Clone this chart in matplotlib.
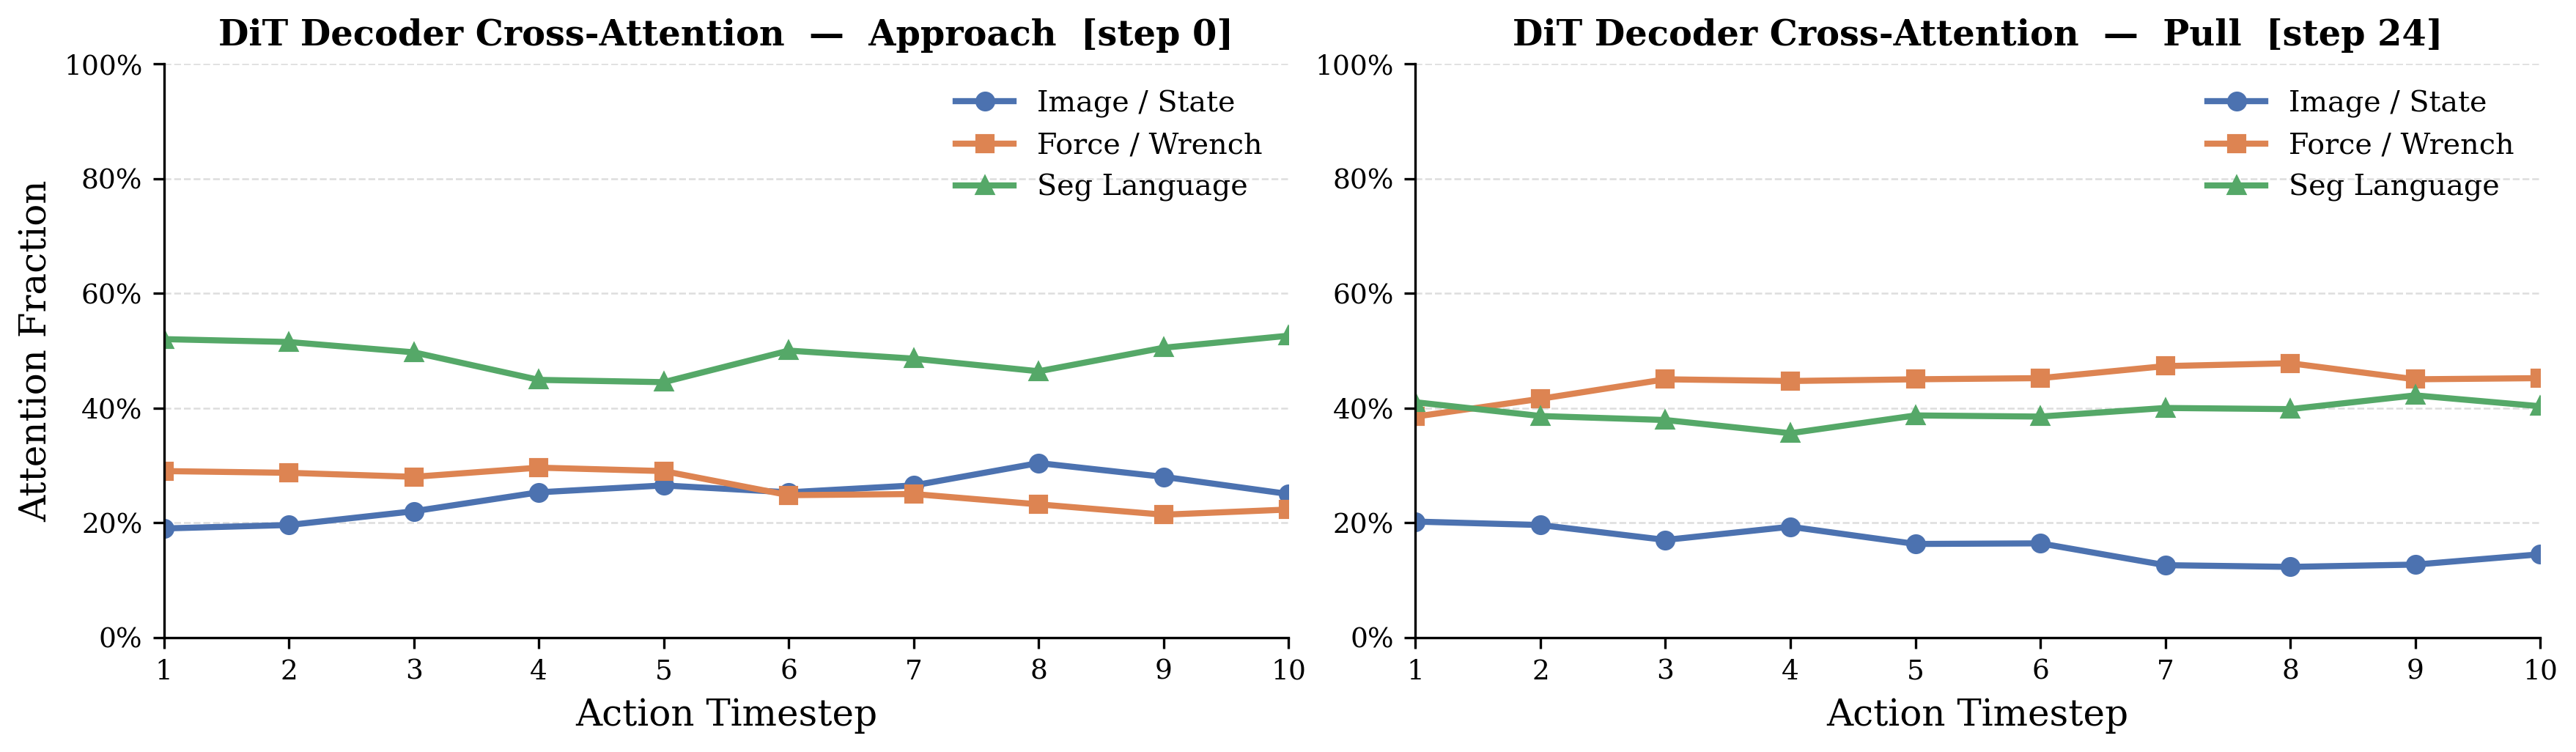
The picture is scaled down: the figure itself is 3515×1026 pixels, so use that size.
import matplotlib
matplotlib.use("Agg")
import matplotlib.pyplot as plt
from matplotlib.ticker import PercentFormatter

plt.rcParams['font.family'] = ['DejaVu Serif']

steps = list(range(1, 11))
titles = ["DiT Decoder Cross-Attention  —  Approach  [step 0]",
          "DiT Decoder Cross-Attention  —  Pull  [step 24]"]
series_names = ["Image / State", "Force / Wrench", "Seg Language"]
left_image = [19.0, 19.6, 22.0, 25.3, 26.5, 25.3, 26.5, 30.4, 28.0, 25.0]
left_force = [29.0, 28.7, 28.0, 29.6, 29.0, 24.8, 25.0, 23.2, 21.4, 22.3]
left_seg = [52.0, 51.5, 49.7, 44.9, 44.5, 50.0, 48.6, 46.4, 50.5, 52.6]
right_image = [20.2, 19.6, 17.0, 19.3, 16.3, 16.4, 12.6, 12.3, 12.7, 14.5]
right_force = [38.5, 41.6, 45.0, 44.7, 45.0, 45.2, 47.3, 47.8, 45.0, 45.2]
right_seg = [41.0, 38.6, 37.9, 35.6, 38.7, 38.5, 40.0, 39.8, 42.2, 40.3]

colors = ["#4C72B0", "#DD8452", "#55A868"]
markers = ["o", "s", "^"]

fig, axes = plt.subplots(1, 2, figsize=(11.717, 3.42), dpi=300)
for ax, title, data in zip(axes, titles,
                           [(left_image, left_force, left_seg),
                            (right_image, right_force, right_seg)]):
    for vals, name, c, m in zip(data, series_names, colors, markers):
        ax.plot(steps, vals, color=c, marker=m, lw=2, ms=5.5, label=name)
    ax.set_xlim(1, 10)
    ax.set_ylim(0, 100)
    ax.set_xticks(steps)
    ax.set_yticks(range(0, 101, 20))
    ax.yaxis.set_major_formatter(PercentFormatter(decimals=0))
    ax.grid(axis='y', ls='--', lw=0.6, color='#dddddd')
    ax.set_axisbelow(True)
    for s in ['top', 'right']:
        ax.spines[s].set_visible(False)
    ax.tick_params(labelsize=9)
    ax.set_xlabel("Action Timestep", fontsize=12)
    ax.set_title(title, fontsize=11.5, fontweight='bold')
    ax.legend(frameon=False, fontsize=9.5, loc='upper right')
axes[0].set_ylabel("Attention Fraction", fontsize=12, labelpad=3)
fig.tight_layout(w_pad=0.3, pad=0.6)
fig.savefig("out.png", dpi=300)
